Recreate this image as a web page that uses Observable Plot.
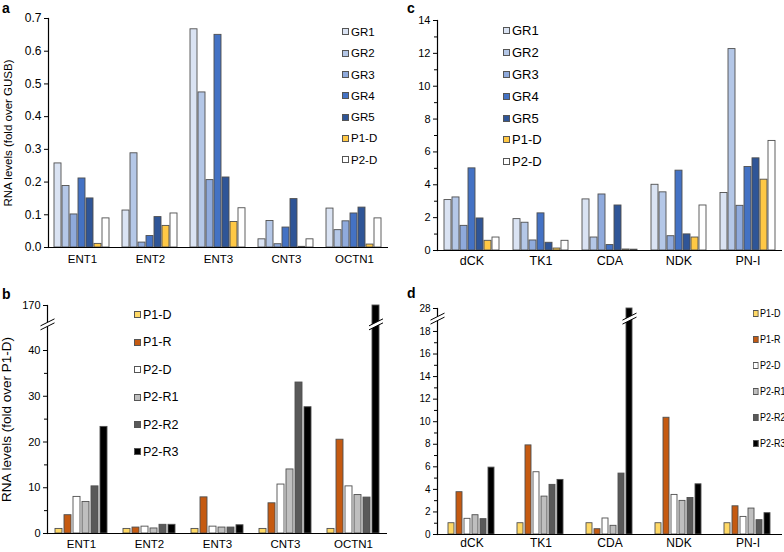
<!DOCTYPE html>
<html><head><meta charset="utf-8">
<script src="https://cdn.jsdelivr.net/npm/d3@7"></script>
<script src="https://cdn.jsdelivr.net/npm/@observablehq/plot@0.6"></script>
<style>
body{margin:0;background:#fff;font-family:"Liberation Sans",Arial,sans-serif;}
#wrap{position:relative;width:784px;height:552px;overflow:hidden;}
.panel{position:absolute;width:392px;height:276px;}
.letter{position:absolute;font-weight:bold;font-size:14px;line-height:14px;}
.legend{position:absolute;color:#000;transform-origin:0 0;}
.legend div{display:flex;align-items:center;white-space:nowrap;}
.sw{display:inline-block;width:5px;height:5px;border:1px solid #555;margin-right:2px;}
</style></head>
<body><div id="wrap"></div>
<script>
// ---------- categories / series ----------
const catsAB = ["ENT1","ENT2","ENT3","CNT3","OCTN1"];
const catsCD = ["dCK","TK1","CDA","NDK","PN-I"];
const seriesAC = ["GR1","GR2","GR3","GR4","GR5","P1-D","P2-D"];
const seriesBD = ["P1-D","P1-R","P2-D","P2-R1","P2-R2","P2-R3"];
const colorsAC = ["#dae3f3","#b4c7e7","#8faadc","#4472c4","#2f5597","#ffc845","#ffffff"];
const colorsBD = ["#ffd966","#c55a11","#ffffff","#bfbfbf","#595959","#000000"];

// ---------- panel a (fold over GUSB) ----------
const aGR1 = [0.257,0.113,0.667,0.025,0.119];
const aGR2 = [0.188,0.288,0.474,0.081,0.053];
const aGR3 = [0.101,0.015,0.206,0.010,0.080];
const aGR4 = [0.211,0.035,0.650,0.061,0.104];
const aGR5 = [0.150,0.093,0.214,0.148,0.122];
const aP1D = [0.011,0.066,0.078,0.002,0.009];
const aP2D = [0.089,0.104,0.120,0.025,0.089];

// ---------- panel c ----------
const cGR1 = [3.07,1.91,3.11,4.00,3.50];
const cGR2 = [3.23,1.69,0.79,3.54,12.26];
const cGR3 = [1.50,0.61,3.41,0.87,2.72];
const cGR4 = [5.00,2.26,0.33,4.86,5.08];
const cGR5 = [1.95,0.47,2.74,0.98,5.61];
const cP1D = [0.59,0.12,0.06,0.79,4.31];
const cP2D = [0.79,0.59,0.05,2.74,6.67];

// ---------- panel b (fold over P1-D) ----------
const bP1D = [1,1,1,1,1];
const bP1R = [4.0,1.3,7.9,6.6,20.5];
const bP2D = [8.0,1.5,1.5,10.7,10.3];
const bP2R1 = [6.9,1.1,1.3,14.0,8.4];
const bP2R2 = [10.3,1.9,1.3,33.0,7.85];
const bP2R3 = [23.3,1.9,1.8,27.6,170];

// ---------- panel d ----------
const dP1D = [1,1,1,1,1];
const dP1R = [3.75,7.9,0.47,10.35,2.5];
const dP2D = [1.39,5.52,1.42,3.51,1.56];
const dP2R1 = [1.71,3.36,0.77,2.98,2.30];
const dP2R2 = [1.36,4.40,5.40,3.24,1.27];
const dP2R3 = [5.93,4.84,28,4.45,1.89];

// ---------- ticks ----------
const ticksA = [0,0.1,0.2,0.3,0.4,0.5,0.6,0.7];
const ticksC = [0,2,4,6,8,10,12,14];
const minorC = [1,3,5,7,9,11,13];
const ticksB = [0,10,20,30,40,170];
const minorB = [5,15,25,35];
const ticksD = [0,2,4,6,8,10,12,14,16,18,28];
const minorD = [1,3,5,7,9,11,13,15,17];

// broken-axis mappings (data value -> compressed axis value)
const brokenB = d3.scaleLinear().domain([0,44,160,170]).range([0,201.3,217,228]);
const brokenD = d3.scaleLinear().domain([0,18.6,26,28]).range([0,209.8,222,226]);

// axis-break symbols (style only)
const gapSym = {draw(ctx){ctx.moveTo(-7,1.5);ctx.lineTo(7,-5.5);ctx.lineTo(7,-1.5);ctx.lineTo(-7,5.5);ctx.closePath();}};
const lineSym = {draw(ctx){ctx.moveTo(-7,1.5);ctx.lineTo(7,-5.5);ctx.moveTo(-7,5.5);ctx.lineTo(7,-1.5);}};

const wrap = document.getElementById("wrap");

function panel(o){
  const rows = [];
  o.series.forEach((s,j)=>o.cats.forEach((c,i)=>rows.push({cat:c, series:s, value:o.values[j][i]})));
  const f = o.broken || (v => v);
  const inv = o.broken ? (t => Math.round(o.broken.invert(t)*1000)/1000) : (t => t);
  const yScale = o.broken ? {domain:[0, o.broken(o.ticks[o.ticks.length-1])], transform:o.broken} : {domain:o.yDomain};
  const marks = [
    Plot.barY(rows,{fx:"cat", x:"series", y:"value", fill:"series", stroke:"#4f4f4f", strokeWidth:0.9}),
    Plot.ruleY([0],{stroke:"#000", strokeWidth:1.2}),
    Plot.frame({anchor:"left", facetAnchor:"left", stroke:"#000", strokeWidth:1.2}),
    Plot.axisY({ticks:o.ticks.map(f), tickSize:4, tickPadding:3, tickFormat:t => o.fmt(inv(t)), fontSize:o.tf, label:null}),
  ];
  if (o.label) marks.push(Plot.axisY({ticks:[], tickSize:0, fontSize:o.lf, label:o.label, labelAnchor:"center", labelArrow:"none", labelOffset:o.lo}));
  if (o.minor) marks.push(Plot.axisY({ticks:o.minor.map(f), tickSize:3, fill:"none", label:null}));
  marks.push(Plot.axisFx({anchor:"bottom", tickSize:0, tickPadding:o.cp, label:null, fontSize:o.cf}));
  if (o.brk !== undefined){
    const axisBrk = [{cat:o.cats[0], y:o.brk}];
    const barBrk = o.brkBars.map(([c,s])=>({cat:c, series:s, y:o.brk}));
    marks.push(
      Plot.dot(axisBrk,{fx:"cat", y:"y", frameAnchor:"left", symbol:gapSym, r:5, fill:"white", stroke:"none"}),
      Plot.dot(axisBrk,{fx:"cat", y:"y", frameAnchor:"left", symbol:lineSym, r:5, fill:"none", stroke:"#000", strokeWidth:1}),
      Plot.dot(barBrk,{fx:"cat", x:"series", y:"y", symbol:gapSym, r:5, fill:"white", stroke:"none"}),
      Plot.dot(barBrk,{fx:"cat", x:"series", y:"y", symbol:lineSym, r:5, fill:"none", stroke:"#000", strokeWidth:1})
    );
  }
  const svg = Plot.plot({
    width:392, height:276,
    marginLeft:o.m[0], marginRight:o.m[1], marginTop:o.m[2], marginBottom:o.m[3],
    style:{fontFamily:'"Liberation Sans", Arial, sans-serif', color:"#000", background:"transparent", overflow:"visible"},
    fx:{domain:o.cats, padding:0, label:null},
    x:{domain:o.series, paddingInner:o.pi, paddingOuter:o.po, axis:null},
    y:{...yScale, axis:null},
    color:{domain:o.series, range:o.colors},
    marks
  });
  const div = document.createElement("div");
  div.className = "panel";
  div.style.left = o.pos[0]+"px"; div.style.top = o.pos[1]+"px";
  div.appendChild(svg);
  wrap.appendChild(div);

  const lg = document.createElement("div");
  lg.className = "legend";
  lg.style.fontSize = o.leg[3]+"px";
  if (o.leg[4]) lg.style.transform = "scaleX("+o.leg[4]+")";
  lg.style.left = (o.pos[0]+o.leg[0])+"px"; lg.style.top = (o.pos[1]+o.leg[1])+"px";
  o.series.forEach((s,j)=>{
    const it = document.createElement("div");
    it.style.height = o.leg[2]+"px";
    const sw = document.createElement("span");
    sw.className = "sw"; sw.style.background = o.colors[j];
    it.appendChild(sw);
    it.appendChild(document.createTextNode(s));
    lg.appendChild(it);
  });
  wrap.appendChild(lg);

  const L = document.createElement("div");
  L.className = "letter"; L.textContent = o.letter;
  L.style.left = (o.pos[0]+o.lp[0])+"px"; L.style.top = (o.pos[1]+o.lp[1])+"px";
  wrap.appendChild(L);
}

panel({letter:"a", pos:[0,0], lp:[2,1], cats:catsAB, series:seriesAC, colors:colorsAC,
  values:[aGR1,aGR2,aGR3,aGR4,aGR5,aP1D,aP2D], yDomain:[0,0.7], ticks:ticksA, fmt:d3.format(".1f"),
  tf:12, lf:11.5, lo:45, cf:11.5, cp:7,
  label:"RNA levels (fold over GUSB)", m:[47,4,18,29], pi:0.1, po:0.75, leg:[342,21.3,21.3,11.5]});

panel({letter:"c", pos:[392,0], lp:[15,1], cats:catsCD, series:seriesAC, colors:colorsAC,
  values:[cGR1,cGR2,cGR3,cGR4,cGR5,cP1D,cP2D], yDomain:[0,14], ticks:ticksC, minor:minorC, fmt:d3.format("d"),
  tf:11, cf:12.5, cp:6,
  m:[45,2,20,26], pi:0.1, po:0.86, leg:[111,20,21.8,13]});

panel({letter:"b", pos:[0,276], lp:[2,11], cats:catsAB, series:seriesBD, colors:colorsBD,
  values:[bP1D,bP1R,bP2D,bP2R1,bP2R2,bP2R3], broken:brokenB,
  ticks:ticksB, minor:minorB, fmt:d3.format("d"), brk:102, brkBars:[["OCTN1","P2-R3"]],
  tf:11, lf:13.5, lo:46, cf:11.5, cp:6,
  label:"RNA levels (fold over P1-D)", m:[46,4,29,19], pi:0.2, po:0.83, leg:[134,25.3,27.4,12.5]});

panel({letter:"d", pos:[392,276], lp:[15,10], cats:catsCD, series:seriesBD, colors:colorsBD,
  values:[dP1D,dP1R,dP2D,dP2R1,dP2R2,dP2R3], broken:brokenD,
  ticks:ticksD, minor:minorD, fmt:d3.format("d"), brk:22.3, brkBars:[["CDA","P2-R3"]],
  tf:10, cf:12, cp:4,
  m:[44,2,32,18], pi:0.2, po:0.97, leg:[361,24,26,11.5,0.78]});
</script>
</body></html>
